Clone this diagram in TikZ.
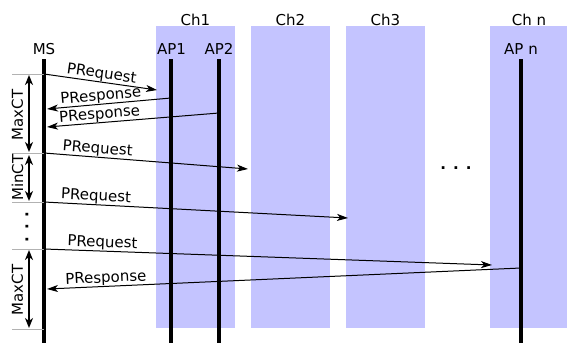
\documentclass[tikz,border=0pt]{standalone}
\usepackage{fontspec}
\setmainfont{DejaVu Sans}
\usetikzlibrary{arrows.meta}
\definecolor{chfill}{RGB}{196,196,255}
\begin{document}
\begin{tikzpicture}[x=1pt,y=-1pt,
  chan/.style={fill=chfill, draw=none},
  life/.style={line width=3.6pt},
  msg/.style={-{Stealth[length=11pt,width=7pt,inset=3pt]}, line width=1pt},
  mlabel/.style={font=\fontsize{15}{17}\selectfont, sloped, above, inner sep=0.3pt},
  txt/.style={font=\fontsize{15}{17}\selectfont, inner sep=0pt, anchor=base},
  rtxt/.style={font=\fontsize{15}{17}\selectfont, inner sep=0pt, rotate=90},
  tickline/.style={draw=gray!60, line width=0.8pt},
  spanarrow/.style={{Stealth[length=10pt,width=8pt,inset=3pt]}-{Stealth[length=10pt,width=8pt,inset=3pt]}, line width=1.6pt},
  dots/.style={font=\bfseries\fontsize{15}{17}\selectfont, inner sep=0pt},
]
\useasboundingbox (0,0) rectangle (567,343);

% channel bands
\fill[chan] (156,26) rectangle (235,328);
\fill[chan] (251,26) rectangle (330,328);
\fill[chan] (346,26) rectangle (425,328);
\fill[chan] (490,26) rectangle (567,328);

% channel titles
\node[txt] (ch1) at (195.5,25.5) {Ch1};
\node[txt] (ch2) at (290.5,25.5) {Ch2};
\node[txt] (ch3) at (385.5,25.5) {Ch3};
\node[txt] (chn) at (529,25.5) {Ch n};
\node[dots] (hdots) at (456,168) {. . .};

% station labels
\node[txt] (ms) at (44,54) {MS};
\node[txt] (ap1) at (171.5,54) {AP1};
\node[txt] (ap2) at (219,54) {AP2};
\node[txt] (apn) at (521,54) {AP n};

% lifelines
\coordinate (mstop) at (44,59);   \coordinate (msbot) at (44,343);
\coordinate (ap1top) at (171,59); \coordinate (ap1bot) at (171,343);
\coordinate (ap2top) at (219,59); \coordinate (ap2bot) at (219,343);
\coordinate (apntop) at (521,59); \coordinate (apnbot) at (521,343);
\draw[life] (mstop) -- (msbot);
\draw[life] (ap1top) -- (ap1bot);
\draw[life] (ap2top) -- (ap2bot);
\draw[life] (apntop) -- (apnbot);

% timing marks on the MS side
\coordinate (t1) at (44,74);  \coordinate (t1l) at (12,74);
\coordinate (t2) at (44,153); \coordinate (t2l) at (12,153);
\coordinate (t3) at (44,202); \coordinate (t3l) at (12,202);
\coordinate (t4) at (44,249); \coordinate (t4l) at (12,249);
\coordinate (t5) at (44,329); \coordinate (t5l) at (12,329);
\draw[tickline] (t1l) -- (t1);
\draw[tickline] (t2l) -- (t2);
\draw[tickline] (t3l) -- (t3);
\draw[tickline] (t4l) -- (t4);
\draw[tickline] (t5l) -- (t5);

% interval arrows and their names
\coordinate (s1a) at (29,75);  \coordinate (s1b) at (29,152);
\coordinate (s2a) at (29,155); \coordinate (s2b) at (29,201);
\coordinate (s3a) at (29,250); \coordinate (s3b) at (29,328);
\draw[spanarrow] (s1a) -- (s1b);
\draw[spanarrow] (s2a) -- (s2b);
\draw[spanarrow] (s3a) -- (s3b);
\node[rtxt] (maxct1) at (17.5,115) {MaxCT};
\node[rtxt] (minct) at (17.5,177.5) {MinCT};
\node[rtxt] (maxct2) at (17.5,290) {MaxCT};
\node[dots, rotate=90] (vdots) at (27,227) {. . .};

% probe exchanges
\coordinate (r1e) at (157,90);
\draw[msg] (t1) -- node[mlabel, pos=0.5] {PRequest} (r1e);

\coordinate (p1s) at (171,98);  \coordinate (p1e) at (47,109);
\draw[msg] (p1s) -- node[mlabel, pos=0.56] {PResponse} (p1e);

\coordinate (p2s) at (219,113); \coordinate (p2e) at (47,127);
\draw[msg] (p2s) -- node[mlabel, pos=0.69] {PResponse} (p2e);

\coordinate (r2e) at (248,169);
\draw[msg] (t2) -- node[mlabel, pos=0.26] {PRequest} (r2e);

\coordinate (r3e) at (348,218);
\draw[msg] (t3) -- node[mlabel, pos=0.17] {PRequest} (r3e);

\coordinate (r4e) at (492,265);
\draw[msg] (t4) -- node[mlabel, pos=0.13] {PRequest} (r4e);

\coordinate (pns) at (521,268); \coordinate (pne) at (47,289);
\draw[msg] (pns) -- node[mlabel, pos=0.875] {PResponse} (pne);
\end{tikzpicture}
\end{document}
